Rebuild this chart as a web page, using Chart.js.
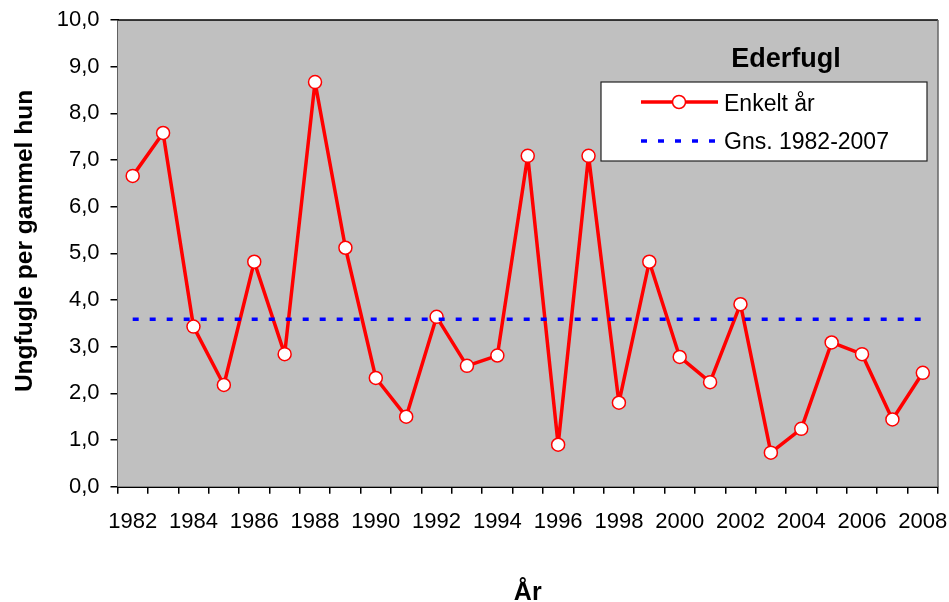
<!DOCTYPE html>
<html>
<head>
<meta charset="utf-8">
<script src="https://cdn.jsdelivr.net/npm/chart.js@4/dist/chart.umd.min.js"></script>
<style>
  html, body { margin: 0; padding: 0; background: #fff; }
  #wrap { width: 949px; height: 602px; }
</style>
</head>
<body>
<div id="wrap"><canvas id="chart" width="949" height="602"></canvas></div>
<script>
// Data
const years = ['1982','1983','1984','1985','1986','1987','1988','1989','1990','1991','1992','1993','1994',
               '1995','1996','1997','1998','1999','2000','2001','2002','2003','2004','2005','2006','2007','2008'];
const youngPerFemale = [6.66, 7.58, 3.43, 2.18, 4.82, 2.84, 8.67, 5.12, 2.33, 1.50, 3.64, 2.59, 2.81,
                        7.09, 0.90, 7.09, 1.80, 4.82, 2.78, 2.24, 3.91, 0.73, 1.24, 3.09, 2.84, 1.44, 2.44];
const meanLine = [{ x: '1982', y: 3.59 }, { x: '2008', y: 3.59 }];
const yTicks = [0, 1, 2, 3, 4, 5, 6, 7, 8, 9, 10];

const legendTitle = 'Ederfugl';
const seriesName = 'Enkelt år';
const meanName = 'Gns. 1982-2007';
const yTitle = 'Ungfugle per gammel hun';
const xTitle = 'År';

const FONT = "'Liberation Sans', Arial, sans-serif";

// background, border, titles and the boxed legend
const decor = {
    id: 'decor',
    beforeDatasetsDraw(chart) {
        const { ctx, chartArea: a } = chart;
        ctx.save();
        ctx.fillStyle = '#C0C0C0';
        ctx.fillRect(a.left, a.top, a.right - a.left, a.bottom - a.top);
        ctx.restore();
    },
    afterDraw(chart) {
        const { ctx, chartArea: a } = chart;
        ctx.save();
        // plot frame top / right
        ctx.lineWidth = 1.5;
        ctx.strokeStyle = '#000';
        ctx.beginPath();
        ctx.moveTo(a.left, a.top);
        ctx.lineTo(a.right, a.top);
        ctx.stroke();
        ctx.strokeStyle = '#666';
        ctx.beginPath();
        ctx.moveTo(a.right, a.top);
        ctx.lineTo(a.right, a.bottom);
        ctx.stroke();

        // axis titles
        ctx.fillStyle = '#000';
        ctx.textAlign = 'center';
        ctx.textBaseline = 'middle';
        ctx.font = 'bold 24.5px ' + FONT;
        ctx.save();
        ctx.translate(25, 241);
        ctx.rotate(-Math.PI / 2);
        ctx.fillText(yTitle, 0, 0);
        ctx.restore();
        ctx.font = 'bold 25px ' + FONT;
        ctx.textBaseline = 'alphabetic';
        ctx.fillText(xTitle, (a.left + a.right) / 2, 600);

        // legend title
        ctx.font = 'bold 27px ' + FONT;
        ctx.fillText(legendTitle, 786, 67);

        // legend box
        ctx.fillStyle = '#fff';
        ctx.fillRect(601, 82, 326, 79);
        ctx.strokeStyle = '#222';
        ctx.lineWidth = 1.2;
        ctx.strokeRect(601, 82, 326, 79);

        // sample 1: red line with marker
        ctx.strokeStyle = '#FF0000';
        ctx.lineWidth = 3.5;
        ctx.beginPath();
        ctx.moveTo(641, 102);
        ctx.lineTo(718, 102);
        ctx.stroke();
        ctx.fillStyle = '#fff';
        ctx.lineWidth = 1.5;
        ctx.beginPath();
        ctx.arc(679, 102, 6.5, 0, Math.PI * 2);
        ctx.fill();
        ctx.stroke();

        // sample 2: blue dashes
        ctx.strokeStyle = '#0000FF';
        ctx.lineWidth = 3.5;
        ctx.setLineDash([6, 11]);
        ctx.beginPath();
        ctx.moveTo(641, 141);
        ctx.lineTo(718, 141);
        ctx.stroke();
        ctx.setLineDash([]);

        ctx.fillStyle = '#000';
        ctx.textAlign = 'left';
        ctx.font = '23px ' + FONT;
        ctx.fillText(seriesName, 724, 111);
        ctx.fillText(meanName, 724, 149);
        ctx.restore();
    }
};

new Chart(document.getElementById('chart').getContext('2d'), {
    type: 'line',
    data: {
        labels: years,
        datasets: [
            {
                label: meanName,
                data: meanLine,
                borderColor: '#0000FF',
                borderWidth: 3.5,
                borderDash: [6, 11],
                pointRadius: 0,
                fill: false,
                order: 0
            },
            {
                label: seriesName,
                data: youngPerFemale,
                borderColor: '#FF0000',
                borderWidth: 3.5,
                borderJoinStyle: 'round',
                pointRadius: 6.5,
                pointBackgroundColor: '#FFFFFF',
                pointBorderColor: '#FF0000',
                pointBorderWidth: 1.5,
                tension: 0,
                fill: false,
                order: 1
            }
        ]
    },
    options: {
        responsive: false,
        animation: false,
        layout: { padding: { top: 20, right: 11, left: 0, bottom: 0 } },
        plugins: {
            legend: { display: false },
            tooltip: { enabled: false }
        },
        scales: {
            x: {
                type: 'category',
                offset: true,
                grid: {
                    offset: true,
                    drawOnChartArea: false,
                    drawTicks: true,
                    tickLength: 7,
                    color: '#000',
                    lineWidth: 1.5
                },
                border: { display: true, color: '#000', width: 2 },
                ticks: {
                    autoSkip: false,
                    maxRotation: 0,
                    padding: 15,
                    color: '#000',
                    font: { family: FONT, size: 22 },
                    callback: (v, i) => (i % 2 === 0 ? years[i] : '')
                },
                afterFit: (scale) => {
                    scale.height = 115.3;
                    scale.paddingLeft = 0;
                    scale.paddingRight = 0;
                }
            },
            y: {
                min: 0,
                max: 10,
                afterBuildTicks: (scale) => { scale.ticks = yTicks.map(v => ({ value: v })); },
                grid: {
                    drawOnChartArea: false,
                    drawTicks: true,
                    tickLength: 7,
                    color: '#000',
                    lineWidth: 1.5
                },
                border: { display: true, color: '#000', width: 2 },
                ticks: {
                    padding: 11,
                    color: '#000',
                    font: { family: FONT, size: 22 },
                    callback: (v) => v.toFixed(1).replace('.', ',')
                },
                afterFit: (scale) => {
                    scale.width = 117.5;
                    scale.paddingTop = 0;
                    scale.paddingBottom = 0;
                }
            }
        }
    },
    plugins: [decor]
});
</script>
</body>
</html>
